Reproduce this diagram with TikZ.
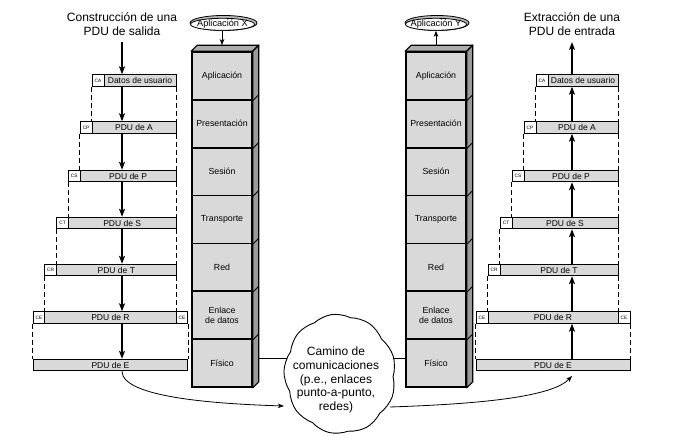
\documentclass[tikz,border=0pt]{standalone}
\usepackage{fontspec}
\setmainfont{Liberation Sans}
\usetikzlibrary{arrows.meta,shapes.symbols,shapes.geometric}
\definecolor{boxgray}{HTML}{D9D9D9}
\definecolor{sidegray}{HTML}{9A9A9A}
\definecolor{topgray}{HTML}{ADADAD}
\begin{document}
\begin{tikzpicture}[x=1pt,y=-1pt,
 pdu/.style={draw, line width=0.9pt, fill=boxgray, minimum height=11.5pt, inner sep=0pt, font=\fontsize{8.5}{10}\selectfont},
 hdr/.style={draw, line width=0.9pt, fill=white, minimum height=11.5pt, inner sep=0pt, font=\fontsize{4.8}{5}\selectfont},
 layer/.style={draw, line width=1.6pt, fill=boxgray, minimum width=60pt, minimum height=47.86pt, inner sep=0pt, align=center, font=\fontsize{8.8}{10.5}\selectfont},
 bigarr/.style={line width=1.8pt, -{Stealth[length=8pt,width=6pt,inset=2pt]}},
 thinarr/.style={line width=0.8pt, -{Stealth[length=6pt,width=4.5pt,inset=1.5pt]}},
 dsh/.style={line width=0.8pt, dash pattern=on 5pt off 3pt},
 ttl/.style={align=center, font=\fontsize{12}{14.5}\selectfont},
 ellbase/.style={ellipse, draw, line width=0.8pt, inner sep=0pt},
 face/.style={line width=1.2pt, line join=round}
]
\useasboundingbox (0,0) rectangle (681,446);

% ---------- titles ----------
\node[ttl] (tiL) at (122,24) {Construcción de una\\PDU de salida};
\node[ttl] (tiR) at (572,24) {Extracción de una\\PDU de entrada};
\coordinate (tL) at (122,42);
\coordinate (tR) at (572,42);

% ---------- left PDU column ----------
\node[hdr, minimum width=12pt]   (hDL) at (98,80.5) {CA};
\node[pdu, minimum width=72pt]   (pDL) at (140,80.5) {Datos de usuario};
\node[hdr, minimum width=11.8pt] (hAL) at (86.1,127.5) {CP};
\node[pdu, minimum width=84pt]   (pAL) at (134,127.5) {PDU de A};
\node[hdr, minimum width=11.8pt] (hPL) at (74.3,176) {CS};
\node[pdu, minimum width=95.8pt] (pPL) at (128.1,176) {PDU de P};
\node[hdr, minimum width=11.8pt] (hSL) at (62.5,223) {CT};
\node[pdu, minimum width=107.6pt] (pSL) at (122.2,223) {PDU de S};
\node[hdr, minimum width=11.8pt] (hTL) at (50.7,270) {CR};
\node[pdu, minimum width=119.4pt] (pTL) at (116.3,270) {PDU de T};
\node[hdr, minimum width=11.8pt] (hRL) at (38.9,317.5) {CE};
\node[pdu, minimum width=131.2pt] (pRL) at (110.4,317.5) {PDU de R};
\node[hdr, minimum width=11.8pt] (gRL) at (181.9,317.5) {CE};
\node[pdu, minimum width=154.8pt] (pEL) at (110.4,365) {PDU de E};

% dashed guides left
\foreach \u/\uh/\l in {pDL/hDL/pAL, pAL/hAL/pPL, pPL/hPL/pSL, pSL/hSL/pTL, pTL/hTL/pRL}{
  \draw[dsh] (\uh.south west) -- (\uh.south west |- \l.north);
  \draw[dsh] (\u.south east) -- (\u.south east |- \l.north);
}
\draw[dsh] (hRL.south west) -- (hRL.south west |- pEL.north);
\draw[dsh] (gRL.south east) -- (gRL.south east |- pEL.north);

% arrows left
\draw[bigarr] (tL) -- (tL |- pDL.north);
\foreach \u/\l in {pDL/pAL, pAL/pPL, pPL/pSL, pSL/pTL, pTL/pRL, pRL/pEL}{
  \draw[bigarr] (tL |- \u.south) -- (tL |- \l.north);
}

% ---------- right PDU column ----------
\node[hdr, minimum width=12pt]  (hDR) at (542,80.5) {CA};
\node[pdu, minimum width=70pt]  (pDR) at (583,80.5) {Datos de usuario};
\node[hdr, minimum width=12pt]  (hAR) at (530,127.5) {CP};
\node[pdu, minimum width=82pt]  (pAR) at (577,127.5) {PDU de A};
\node[hdr, minimum width=12pt]  (hPR) at (518,176) {CS};
\node[pdu, minimum width=94pt]  (pPR) at (571,176) {PDU de P};
\node[hdr, minimum width=12pt]  (hSR) at (506,223) {CT};
\node[pdu, minimum width=106pt] (pSR) at (565,223) {PDU de S};
\node[hdr, minimum width=12pt]  (hTR) at (494,270) {CR};
\node[pdu, minimum width=118pt] (pTR) at (559,270) {PDU de T};
\node[hdr, minimum width=12pt]  (hRR) at (482,317.5) {CE};
\node[pdu, minimum width=130pt] (pRR) at (553,317.5) {PDU de R};
\node[hdr, minimum width=12pt]  (gRR) at (624,317.5) {CE};
\node[pdu, minimum width=154pt] (pER) at (553,365) {PDU de E};

\foreach \u/\uh/\l in {pDR/hDR/pAR, pAR/hAR/pPR, pPR/hPR/pSR, pSR/hSR/pTR, pTR/hTR/pRR}{
  \draw[dsh] (\uh.south west) -- (\uh.south west |- \l.north);
  \draw[dsh] (\u.south east) -- (\u.south east |- \l.north);
}
\draw[dsh] (hRR.south west) -- (hRR.south west |- pER.north);
\draw[dsh] (gRR.south east) -- (gRR.south east |- pER.north);

\draw[bigarr] (tR |- pDR.north) -- (tR);
\foreach \u/\l in {pDR/pAR, pAR/pPR, pPR/pSR, pSR/pTR, pTR/pRR, pRR/pER}{
  \draw[bigarr] (tR |- \l.north) -- (tR |- \u.south);
}

% ---------- OSI stacks ----------
\foreach \s/\cx in {L/222, R/436}{
  \node[layer] (\s1) at (\cx,75.93) {Aplicación};
  \node[layer] (\s2) at (\cx,123.79) {Presentación};
  \node[layer] (\s3) at (\cx,171.65) {Sesión};
  \node[layer] (\s4) at (\cx,219.51) {Transporte};
  \node[layer] (\s5) at (\cx,267.37) {Red};
  \node[layer] (\s6) at (\cx,315.23) {Enlace\\de datos};
  \node[layer] (\s7) at (\cx,363.09) {Físico};
  % top face and side face
  \filldraw[face, fill=topgray] (\s1.north west) -- ++(6,-6) -- ([shift={(6pt,6pt)}]\s1.north east) -- (\s1.north east) -- cycle;
  \filldraw[face, fill=sidegray] (\s1.north east) -- ++(6,-6) -- ([shift={(6pt,6pt)}]\s7.south east) -- (\s7.south east) -- cycle;
  \foreach \k in {1,...,6}{
    \draw[line width=0.9pt] (\s\k.south east) -- ++(6,-6);
  }
  \coordinate (top\s) at ([yshift=6pt]\s1.north);
}

% ---------- application ellipses ----------
\node[ellbase, fill=gray!55, minimum width=67pt, minimum height=15pt] (eXo) at (223.5,23) {};
\node[ellbase, fill=white, minimum width=64pt, minimum height=12pt] (eX) at (222.5,24.3) {};
\node[font=\fontsize{9.2}{10}\selectfont, inner sep=0pt] (aX) at (222.5,24.3) {Aplicación X};
\node[ellbase, fill=gray!55, minimum width=64pt, minimum height=15pt] (eYo) at (437,23) {};
\node[ellbase, fill=white, minimum width=61pt, minimum height=12pt] (eY) at (436,24.3) {};
\node[font=\fontsize{9.2}{10}\selectfont, inner sep=0pt] (aY) at (436,24.3) {Aplicación Y};
\draw[thinarr] (eX.south -| topL) -- (topL);
\draw[thinarr] (topR) -- (eY.south);

% ---------- link and cloud ----------
\draw[line width=0.8pt] ([shift={(6pt,5pt)}]L7.east) -- ([yshift=5pt]R7.west);
\node[cloud, draw, fill=white, line width=0.9pt, cloud puffs=9, cloud puff arc=70,
      aspect=0.93, minimum width=112pt, minimum height=120pt, inner sep=0pt, rotate=8] (net) at (340,374) {};
\node[align=center, font=\fontsize{12}{13.7}\selectfont] (netT) at (336,380)
  {Camino de\\comunicaciones\\(p.e., enlaces\\punto-a-punto,\\redes)};
\coordinate (cin) at (284,406);
\coordinate (cout) at (390,407);
\coordinate (eR) at (572,376);
\draw[thinarr] (tL |- pEL.south) .. controls (122,398) and (220,404) .. (cin);
\draw[thinarr] (cout) .. controls (480,404) and (552,397) .. (eR);
\end{tikzpicture}
\end{document}
